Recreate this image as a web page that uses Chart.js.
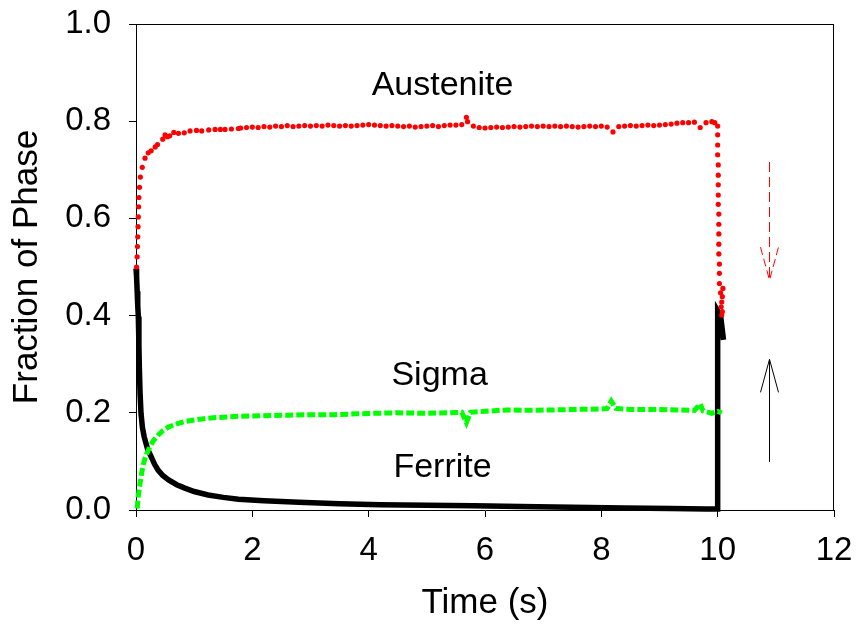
<!DOCTYPE html>
<html>
<head>
<meta charset="utf-8">
<script src="https://cdn.jsdelivr.net/npm/chart.js@4.4.1/dist/chart.umd.min.js"></script>
<style>
  html, body { margin: 0; padding: 0; background: #fff; }
  #wrap { width: 857px; height: 629px; position: relative; }
</style>
</head>
<body>
<div id="wrap"><canvas id="c" width="857" height="629"></canvas></div>
<script>
// ---------------- data ----------------
const xTicks = [0, 2, 4, 6, 8, 10, 12];
const yTicks = [0.0, 0.2, 0.4, 0.6, 0.8, 1.0];

// Austenite (red dots)
const austTime = [
  0.01,0.02,0.025,0.03,0.035,0.04,0.045,0.05,0.06,0.075,0.108,0.155,0.21,0.26,0.33,0.37,0.46,0.50,0.54,0.58,0.65,0.73,0.83,0.93,1.04,1.13,1.25,1.36,1.45,1.53,1.64,1.76,
  1.8,1.9,2.0,2.1,2.2,2.3,2.4,2.5,2.6,2.7,2.8,2.9,3.0,3.1,3.2,3.3,3.4,3.5,3.6,3.7,3.8,3.9,4.0,4.1,4.2,4.3,4.4,4.5,4.6,4.7,4.8,4.9,
  5.0,5.1,5.2,5.3,5.4,5.5,5.6,5.68,5.7,5.8,5.9,6.0,6.1,6.2,6.3,6.4,6.5,6.6,6.7,6.8,6.9,7.0,7.1,7.2,7.3,7.4,7.5,7.6,7.7,7.8,7.9,
  8.0,8.1,8.2,8.3,8.4,8.5,8.6,8.7,8.8,8.9,9.0,9.1,9.2,9.3,9.4,9.5,9.6,9.7,9.8,9.9,9.95,
  10.0,10.0,10.0,10.0,10.01,10.01,10.01,10.01,10.01,10.02,10.02,10.02,10.02,10.02,10.03,10.03,10.03,
  10.09,10.05,10.08,10.07,10.06,10.08,10.07
];
const austFrac = [
  0.500,0.521,0.542,0.562,0.583,0.603,0.624,0.643,0.664,0.685,0.705,0.724,0.735,0.739,0.747,0.752,0.763,0.772,0.768,0.770,0.777,0.775,0.776,0.780,0.781,0.780,0.782,0.783,0.783,0.783,0.784,0.785,
  0.786,0.787,0.788,0.787,0.789,0.788,0.790,0.789,0.791,0.789,0.790,0.791,0.790,0.791,0.790,0.792,0.791,0.790,0.791,0.790,0.791,0.792,0.793,0.792,0.791,0.790,0.791,0.790,0.789,0.790,0.788,0.789,
  0.790,0.791,0.789,0.791,0.792,0.792,0.793,0.808,0.799,0.790,0.787,0.786,0.787,0.788,0.787,0.788,0.789,0.788,0.789,0.790,0.789,0.790,0.789,0.790,0.789,0.790,0.789,0.788,0.789,0.790,0.789,
  0.790,0.788,0.778,0.789,0.790,0.791,0.790,0.791,0.792,0.791,0.792,0.793,0.794,0.796,0.797,0.797,0.798,0.787,0.797,0.799,0.797,
  0.790,0.772,0.751,0.731,0.710,0.689,0.669,0.648,0.629,0.609,0.588,0.568,0.547,0.527,0.506,0.487,0.466,
  0.456,0.447,0.439,0.428,0.418,0.408,0.401
];

// Sigma (green dashed)
const sigmaTime = [0.02,0.04,0.07,0.1,0.13,0.18,0.24,0.3,0.38,0.46,0.56,0.7,0.84,1.0,1.24,1.5,1.8,2.2,2.6,3.0,3.4,3.8,4.1,4.5,5.0,5.4,5.6,5.68,5.75,6.0,6.37,6.8,7.2,7.6,8.0,8.1,8.17,8.25,8.5,8.9,9.3,9.6,9.7,9.75,9.9,10.0,10.07];
const sigmaFrac = [0.003,0.030,0.055,0.078,0.096,0.115,0.130,0.143,0.154,0.163,0.171,0.177,0.182,0.185,0.189,0.191,0.193,0.194,0.195,0.196,0.196,0.198,0.199,0.200,0.199,0.200,0.201,0.180,0.201,0.203,0.206,0.205,0.206,0.207,0.208,0.209,0.224,0.209,0.207,0.207,0.206,0.205,0.218,0.204,0.199,0.203,0.200];

// Ferrite (black solid)
const ferrTime = [0,0.01,0.02,0.03,0.04,0.05,0.057,0.07,0.086,0.11,0.14,0.2,0.26,0.32,0.38,0.46,0.56,0.7,0.84,1.0,1.24,1.5,1.76,2.2,2.8,3.5,4.2,5.0,5.8,6.6,7.5,8.4,9.2,9.8,10.0,10.0,10.05,10.08,10.1];
const ferrFrac = [0.497,0.480,0.450,0.420,0.398,0.340,0.295,0.240,0.199,0.170,0.151,0.125,0.110,0.094,0.082,0.071,0.062,0.052,0.045,0.038,0.031,0.026,0.022,0.019,0.016,0.013,0.011,0.010,0.009,0.007,0.0055,0.004,0.003,0.002,0.002,0.410,0.400,0.370,0.350];

// Text annotations (data coordinates)
const labelText = ["Austenite", "Sigma", "Ferrite"];
const labelX = [5.27, 5.22, 5.27];
const labelY = [0.874, 0.276, 0.088];

// Arrows: [x, yFrom, yTo]
const arrowX = [10.89, 10.89];
const arrowFrom = [0.716, 0.099];
const arrowTo = [0.473, 0.310];
const arrowColor = ["#ff0000", "#000000"];
const arrowDashed = [true, false];

// ---------------- chart ----------------
const FONT = "'Liberation Sans', Arial, sans-serif";

function pts(xs, ys) { return xs.map((x, i) => ({ x: x, y: ys[i] })); }

const framePlugin = {
  id: 'frame',
  afterDatasetsDraw(chart) {
    const { ctx, chartArea: a, scales } = chart;
    const xs = scales.x, ys = scales.y;
    ctx.save();
    ctx.strokeStyle = '#000';
    ctx.lineWidth = 1;
    ctx.setLineDash([]);
    ctx.beginPath();
    ctx.moveTo(a.left, a.top + 0.5); ctx.lineTo(a.right, a.top + 0.5);
    ctx.moveTo(a.right - 0.5, a.top); ctx.lineTo(a.right - 0.5, a.bottom);
    ctx.stroke();
    ctx.fillStyle = '#000';
    ctx.font = '34px ' + FONT;
    ctx.textAlign = 'center';
    ctx.textBaseline = 'middle';
    labelText.forEach((t, i) => {
      ctx.fillText(t, xs.getPixelForValue(labelX[i]), ys.getPixelForValue(labelY[i]));
    });
    arrowX.forEach((ax, i) => {
      const px = Math.round(xs.getPixelForValue(ax)) + 0.5;
      const y0 = ys.getPixelForValue(arrowFrom[i]);
      const y1 = ys.getPixelForValue(arrowTo[i]);
      const dir = y1 > y0 ? 1 : -1;
      ctx.strokeStyle = arrowColor[i];
      ctx.lineWidth = 1;
      ctx.setLineDash(arrowDashed[i] ? [10, 5] : []);
      ctx.beginPath();
      ctx.moveTo(px, y0); ctx.lineTo(px, y1);
      ctx.stroke();
      ctx.setLineDash(arrowDashed[i] ? [8, 4] : []);
      ctx.beginPath();
      ctx.moveTo(px - 9, y1 - dir * 33); ctx.lineTo(px, y1); ctx.lineTo(px + 9, y1 - dir * 33);
      ctx.stroke();
    });
    ctx.restore();
  }
};

new Chart(document.getElementById('c'), {
  type: 'scatter',
  data: {
    datasets: [
      {
        label: 'Austenite',
        data: pts(austTime, austFrac),
        showLine: false,
        pointRadius: 2.6,
        pointBorderWidth: 0,
        pointBackgroundColor: '#ff0000',
        order: 0
      },
      {
        label: 'Sigma',
        data: pts(sigmaTime, sigmaFrac),
        showLine: true,
        pointRadius: 0,
        borderColor: '#00ff00',
        borderWidth: 5,
        borderDash: [8, 3],
        tension: 0,
        order: 1
      },
      {
        label: 'Ferrite',
        data: pts(ferrTime, ferrFrac),
        showLine: true,
        pointRadius: 0,
        borderColor: '#000000',
        borderWidth: 5.5,
        tension: 0,
        order: 2
      }
    ]
  },
  options: {
    responsive: false,
    animation: false,
    devicePixelRatio: 1,
    clip: false,
    layout: { padding: { left: 0, right: 23, top: 24, bottom: 0 } },
    plugins: { legend: { display: false }, tooltip: { enabled: false } },
    scales: {
      x: {
        type: 'linear',
        min: 0, max: 12,
        afterFit(s) { s.height = 119; s.paddingLeft = 0; s.paddingRight = 0; },
        afterBuildTicks(s) { s.ticks = xTicks.map(v => ({ value: v })); },
        ticks: { color: '#000', font: { family: FONT, size: 33 }, padding: 14, maxRotation: 0,
                 callback: v => String(v) },
        grid: { display: true, drawOnChartArea: false, drawTicks: true, tickLength: 7, color: '#000', lineWidth: 1 },
        border: { display: true, color: '#000', width: 1 },
        title: { display: true, text: 'Time (s)', color: '#000', font: { family: FONT, size: 35 }, padding: { top: 0, bottom: 5 } }
      },
      y: {
        type: 'linear',
        min: 0, max: 1,
        afterFit(s) { s.width = 136; s.paddingTop = 0; s.paddingBottom = 0; },
        afterBuildTicks(s) { s.ticks = yTicks.map(v => ({ value: v })); },
        ticks: { color: '#000', font: { family: FONT, size: 33 }, padding: 18,
                 callback: v => Number(v).toFixed(1) },
        grid: { display: true, drawOnChartArea: false, drawTicks: true, tickLength: 7, color: '#000', lineWidth: 1 },
        border: { display: true, color: '#000', width: 1 },
        title: { display: true, text: 'Fraction of Phase', color: '#000', font: { family: FONT, size: 35 }, padding: { top: 6, bottom: 0 } }
      }
    }
  },
  plugins: [framePlugin]
});
</script>
</body>
</html>
